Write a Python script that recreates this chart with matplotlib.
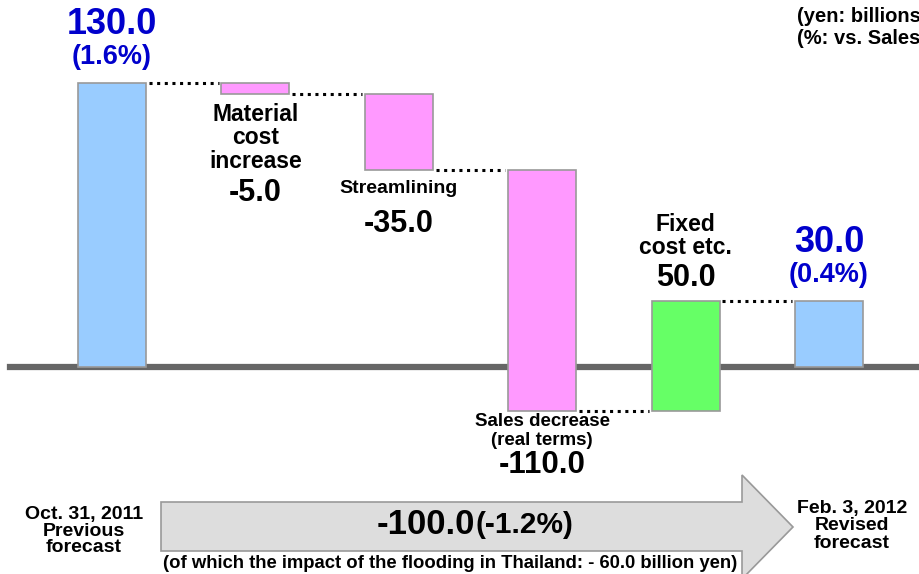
import matplotlib

matplotlib.use("Agg")
import matplotlib.pyplot as plt
import matplotlib.patches as mpatches

plt.rcParams["font.family"] = ["Liberation Sans", "DejaVu Sans"]
plt.rcParams["font.weight"] = "bold"

# waterfall data (yen: billions)
steps = ["Previous forecast", "Material cost increase", "Streamlining",
         "Sales decrease", "Fixed cost etc.", "Revised forecast"]
deltas = [130.0, -5.0, -35.0, -110.0, 50.0, 30.0]
is_total = [True, False, False, False, False, True]
value_labels = ["130.0", "-5.0", "-35.0", "-110.0", "50.0", "30.0"]
pct_labels = ["(1.6%)", None, None, None, None, "(0.4%)"]
step_names = [None, "Material\ncost\nincrease", "Streamlining",
              "Sales decrease\n(real terms)", "Fixed\ncost etc.", None]

BLUE = "#99CCFF"
PINK = "#FF99FF"
GREEN = "#66FF66"
EDGE = "#999999"
TOTAL_TEXT = "#0000CC"

W, H = 919, 574
fig = plt.figure(figsize=(W / 100, H / 100), dpi=100)
ax = fig.add_axes([0, 0, 1, 1])
ax.axis("off")

# pixel -> data mapping: baseline at 367 px, 2.185 px per unit, 143.4 px per bar
PX_UNIT = 2.185
BASE_PX = 367
ax.set_ylim(-(H - BASE_PX) / PX_UNIT, BASE_PX / PX_UNIT)
ax.set_xlim(-112 / 143.4, (W - 112) / 143.4)


def py(p):
    return (BASE_PX - p) / PX_UNIT


bar_w = 0.474
bottoms, tops = [], []
running = 0.0
for i, d in enumerate(deltas):
    if is_total[i]:
        b, t = 0.0, d
        running = d
    else:
        b, t = running, running + d
        running += d
    bottoms.append(min(b, t))
    tops.append(max(b, t))

colors = []
for i, d in enumerate(deltas):
    if is_total[i]:
        colors.append(BLUE)
    elif d < 0:
        colors.append(PINK)
    else:
        colors.append(GREEN)

xs = list(range(len(deltas)))
ax.bar(xs, [t - b for b, t in zip(bottoms, tops)], bottom=bottoms, width=bar_w,
       color=colors, edgecolor=EDGE, linewidth=1.2, zorder=3)

# baseline
ax.axhline(0, xmin=10 / W, xmax=1, color="#666666", linewidth=4.5, zorder=2)

# dotted connectors between bar levels
level = 0.0
for i in range(len(deltas) - 1):
    level = deltas[i] if is_total[i] else level + deltas[i]
    ax.plot([i + bar_w / 2 + 0.02, i + 1 - bar_w / 2 - 0.02], [level, level],
            color="black", linestyle=(0, (1, 1.5)), linewidth=2.2, zorder=1)

# totals
ax.text(0, py(25), value_labels[0], ha="center", va="center", fontsize=26,
        color=TOTAL_TEXT)
ax.text(0, py(57), pct_labels[0], ha="center", va="center", fontsize=19.5,
        color=TOTAL_TEXT)
ax.text(5, py(243), value_labels[5], ha="center", va="center", fontsize=26,
        color=TOTAL_TEXT)
ax.text(5, py(275), pct_labels[5], ha="center", va="center", fontsize=19.5,
        color=TOTAL_TEXT)

# step labels
ax.text(1, py(138), step_names[1], ha="center", va="center", fontsize=16.5,
        linespacing=1.03)
ax.text(1, py(193), value_labels[1], ha="center", va="center", fontsize=22)
ax.text(2, py(189), step_names[2], ha="center", va="center", fontsize=14)
ax.text(2, py(224), value_labels[2], ha="center", va="center", fontsize=22)
ax.text(3, py(431), step_names[3], ha="center", va="center", fontsize=13.5,
        linespacing=1.15)
ax.text(3, py(465), value_labels[3], ha="center", va="center", fontsize=22.5)
ax.text(4, py(236), step_names[4], ha="center", va="center", fontsize=16.5,
        linespacing=1.03)
ax.text(4, py(278), value_labels[4], ha="center", va="center", fontsize=22)

# units note (cut off at right edge like the original)
fig.text(797 / W, 1 - 17 / H, "(yen: billions)", ha="left", va="center", fontsize=14.5)
fig.text(797 / W, 1 - 38 / H, "(%: vs. Sales)", ha="left", va="center", fontsize=14.5)

# big arrow along the bottom
arrow_pts = [(161, 502), (742, 502), (742, 475), (793, 527), (742, 579),
             (742, 551), (161, 551)]
arrow = mpatches.Polygon([(x / W, 1 - y / H) for x, y in arrow_pts], closed=True,
                         transform=fig.transFigure, facecolor="#DDDDDD",
                         edgecolor="#999999", linewidth=1.2, zorder=1)
fig.patches.append(arrow)

fig.text(84 / W, 1 - 531 / H, "Oct. 31, 2011\nPrevious\nforecast", ha="center",
         va="center", fontsize=14, linespacing=1.0)
fig.text(852 / W, 1 - 526 / H, "Feb. 3, 2012\nRevised\nforecast", ha="center",
         va="center", fontsize=14, linespacing=1.0)
fig.text(475 / W, 1 - 525 / H, "-100.0", ha="right", va="center", fontsize=25)
fig.text(475 / W, 1 - 525 / H, "(-1.2%)", ha="left", va="center", fontsize=21.5)
fig.text(450 / W, 1 - 563 / H,
         "(of which the impact of the flooding in Thailand: - 60.0 billion yen)",
         ha="center", va="center", fontsize=13.3)

fig.savefig("out.png", dpi=100, facecolor="white")
